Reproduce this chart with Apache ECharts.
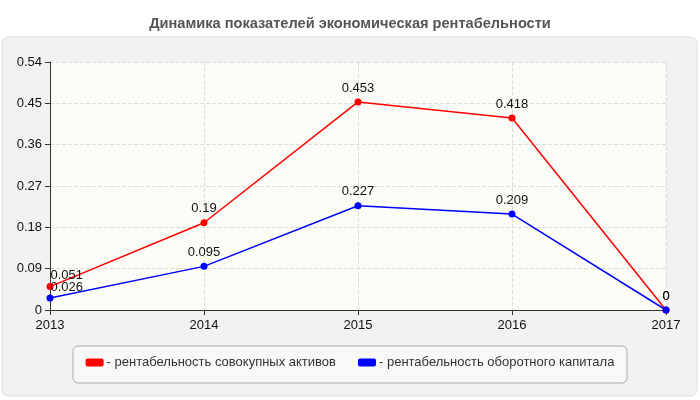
<!DOCTYPE html>
<html>
<head>
<meta charset="utf-8">
<script src="https://cdn.jsdelivr.net/npm/echarts@6/dist/echarts.min.js"></script>
<style>
    html, body { margin: 0; padding: 0; background: #fff; }
    #chart { width: 700px; height: 400px; }
</style>
</head>
<body>
<div id="chart"></div>
<script>
// данные графика
const years = ['2013', '2014', '2015', '2016', '2017'];
const assetsReturn = [0.051, 0.19, 0.453, 0.418, 0];
const capitalReturn = [0.026, 0.095, 0.227, 0.209, 0];
const yTicks = [0, 0.09, 0.18, 0.27, 0.36, 0.45, 0.54];

const assetsName = '- рентабельность совокупных активов';
const capitalName = '- рентабельность оборотного капитала';

document.addEventListener("DOMContentLoaded", function () {
    const chart = echarts.init(document.getElementById('chart'));

    // первая точка у левого края: подпись сдвинута вправо, как в оригинале
    function withEdgeLabel(data) {
        return data.map(function (v, i) {
            if (i !== 0) return v;
            return {
                value: v,
                label: { position: 'right', offset: [-7, -11] }
            };
        });
    }

    function lineSeries(name, data, color) {
        return {
            name: name,
            type: 'line',
            data: withEdgeLabel(data),
            symbol: 'circle',
            symbolSize: 7,
            itemStyle: { color: color },
            lineStyle: { color: color, width: 1.5 },
            label: {
                show: true,
                position: 'top',
                distance: 4,
                color: '#111',
                fontSize: 13,
                fontFamily: 'Liberation Sans, Arial'
            },
            emphasis: { disabled: true }
        };
    }

    chart.setOption({
        animation: false,
        textStyle: { fontFamily: 'Liberation Sans, Arial' },
        title: {
            text: 'Динамика показателей экономическая рентабельности',
            left: 'center',
            top: 11,
            textStyle: { fontSize: 14.6, fontWeight: 'bold', color: '#555' }
        },
        graphic: [
            {
                type: 'rect',
                z: -10,
                shape: { x: 2, y: 37, width: 695, height: 359, r: 6 },
                style: { fill: '#f2f2f2', stroke: '#dedede', lineWidth: 1 }
            },
            {
                type: 'rect',
                z: -5,
                shape: { x: 73, y: 346, width: 554, height: 37, r: 5 },
                style: { fill: '#f8f8f8', stroke: '#aaaaaa', lineWidth: 1 }
            }
        ],
        grid: {
            left: 50,
            right: 34,
            top: 62,
            bottom: 90,
            show: true,
            backgroundColor: '#fcfcf7',
            borderWidth: 0
        },
        legend: {
            bottom: 26,
            left: 'center',
            itemWidth: 18,
            itemHeight: 8,
            itemGap: 22,
            icon: 'roundRect',
            textStyle: { fontSize: 13, color: '#333', padding: [0, 0, 0, -2] },
            data: [
                { name: assetsName, itemStyle: { color: '#ff0000' } },
                { name: capitalName, itemStyle: { color: '#0000ff' } }
            ]
        },
        xAxis: {
            type: 'category',
            data: years,
            boundaryGap: false,
            axisLine: { lineStyle: { color: '#333' } },
            axisTick: { show: true, length: 5, lineStyle: { color: '#333' } },
            axisLabel: { color: '#111', fontSize: 13, margin: 9 },
            splitLine: { show: true, lineStyle: { color: '#dcdcdc', type: 'dashed' } }
        },
        yAxis: {
            type: 'value',
            min: yTicks[0],
            max: yTicks[yTicks.length - 1],
            interval: 0.09,
            axisLine: { show: true, lineStyle: { color: '#333' } },
            axisTick: { show: true, length: 5, lineStyle: { color: '#333' } },
            axisLabel: { color: '#111', fontSize: 13, margin: 8 },
            splitLine: { show: true, lineStyle: { color: '#dcdcdc', type: 'dashed' } }
        },
        series: [
            lineSeries(assetsName, assetsReturn, '#ff0000'),
            lineSeries(capitalName, capitalReturn, '#0000ff')
        ]
    });
});
</script>
</body>
</html>
